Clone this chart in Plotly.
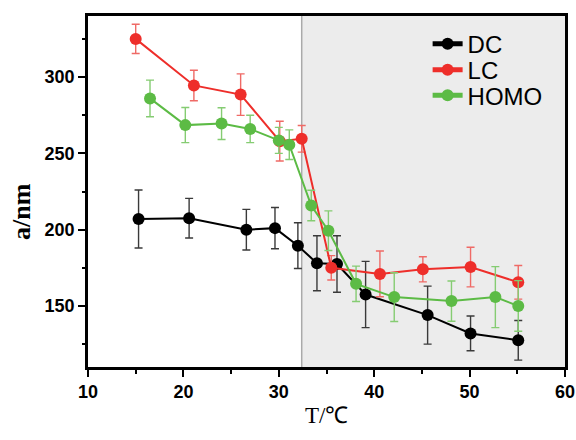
import plotly.graph_objects as go

# ---- data ----
dc_x = [15.3, 20.6, 26.6, 29.6, 32.0, 34.0, 36.1, 39.1, 45.6, 50.1, 55.1]
dc_y = [207, 207.5, 200, 201, 189.5, 178, 177.5, 157.5, 144, 132, 127.5]
dc_err = [19, 13, 13.3, 13.5, 15, 18, 18.5, 21.7, 19, 11.4, 13]

lc_x = [15.0, 21.1, 26.0, 30.1, 32.4, 35.5, 40.6, 45.1, 50.1, 55.1]
lc_y = [325, 294.5, 288.5, 258, 259.5, 175, 171, 174, 175.5, 165.5]
lc_err = [9.6, 10, 13.6, 13, 8.7, 8, 15, 8.2, 13, 11]

homo_x = [16.5, 20.2, 24.0, 27.0, 30.0, 31.1, 33.4, 35.2, 38.1, 42.1, 48.1, 52.7, 55.1]
homo_y = [286, 268.5, 269.5, 266, 258.5, 255.7, 215.8, 199.3, 164.5, 155.8, 153.2, 155.8, 150]
homo_err = [12, 11.5, 10.4, 9, 8.5, 9.7, 10, 13, 11.6, 16, 13.2, 20, 16.6]

transition_T = 32.4
x_ticks = [10, 20, 30, 40, 50, 60]
y_ticks = [150, 200, 250, 300]

series = [
    ("DC", dc_x, dc_y, dc_err, "#000000", "#3a3a3a", "legend", 0.920),
    ("LC", lc_x, lc_y, lc_err, "#ee2e2a", "#ef6a66", "legend2", 0.846),
    ("HOMO", homo_x, homo_y, homo_err, "#5cbb45", "#85cc72", "legend3", 0.773),
]

fig = go.Figure()
legend_font = dict(family="Liberation Sans, Arial", size=24, color="black")
legends = {}
for name, xs, ys, es, col, ecol, lg, ly in series:
    fig.add_trace(go.Scatter(
        x=xs, y=ys, name=name, mode="lines+markers", legend=lg, showlegend=True,
        line=dict(color=col, width=2),
        marker=dict(color=col, size=12),
        error_y=dict(type="data", array=es, visible=True, color=ecol,
                     thickness=1.4, width=4),
    ))
    legends[lg] = dict(x=0.712, y=ly, xanchor="left", yanchor="middle",
                       bgcolor="rgba(0,0,0,0)", itemsizing="constant",
                       font=legend_font, visible=True)

fig.add_shape(type="rect", xref="x", yref="paper", x0=transition_T, x1=60,
              y0=0, y1=1, fillcolor="#ececec", line=dict(width=0), layer="below")
fig.add_shape(type="line", xref="x", yref="paper", x0=transition_T, x1=transition_T,
              y0=0, y1=1, line=dict(color="#aaaaaa", width=1.5), layer="below")

axis_font = dict(family="Liberation Sans, Arial", size=18, color="black")
fig.update_xaxes(range=[10, 60], tickvals=x_ticks,
                 ticktext=[f"<b>{v}</b>" for v in x_ticks],
                 showline=True, mirror=True, automargin=False,
                 linecolor="black", linewidth=2.5, ticks="outside", ticklen=7,
                 tickwidth=2, tickcolor="black", tickfont=axis_font,
                 showgrid=False, zeroline=False,
                 minor=dict(dtick=5, ticks="outside", ticklen=4, tickwidth=2,
                            tickcolor="black", showgrid=False))
fig.update_yaxes(range=[110, 340], tickvals=y_ticks,
                 ticktext=[f"<b>{v}</b>" for v in y_ticks],
                 showline=True, mirror=True, automargin=False,
                 linecolor="black", linewidth=2.5, ticks="outside", ticklen=7,
                 tickwidth=2, tickcolor="black", tickfont=axis_font,
                 showgrid=False, zeroline=False,
                 minor=dict(tickvals=[125, 175, 225, 275, 325], ticks="outside",
                            ticklen=3, tickwidth=2, tickcolor="black", showgrid=False))

fig.add_annotation(text="<b>a/nm</b>", xref="paper", yref="paper",
                   x=-0.138, y=0.442, xanchor="center", yanchor="middle",
                   textangle=-90, showarrow=False,
                   font=dict(family="Liberation Serif, Times New Roman", size=26, color="black"))
fig.add_annotation(text="T/℃", xref="paper", yref="paper",
                   x=0.5, y=-0.137, xanchor="center", yanchor="middle", showarrow=False,
                   font=dict(family="Liberation Serif, Times New Roman", size=23, color="black"))

fig.update_layout(
    width=576, height=440,
    margin=dict(l=88, r=11, t=16, b=73),
    plot_bgcolor="white", paper_bgcolor="white",
    showlegend=True,
    **legends,
)

fig.write_html("out.html", config={"displayModeBar": False},
               post_script="document.body.style.margin='0';")
